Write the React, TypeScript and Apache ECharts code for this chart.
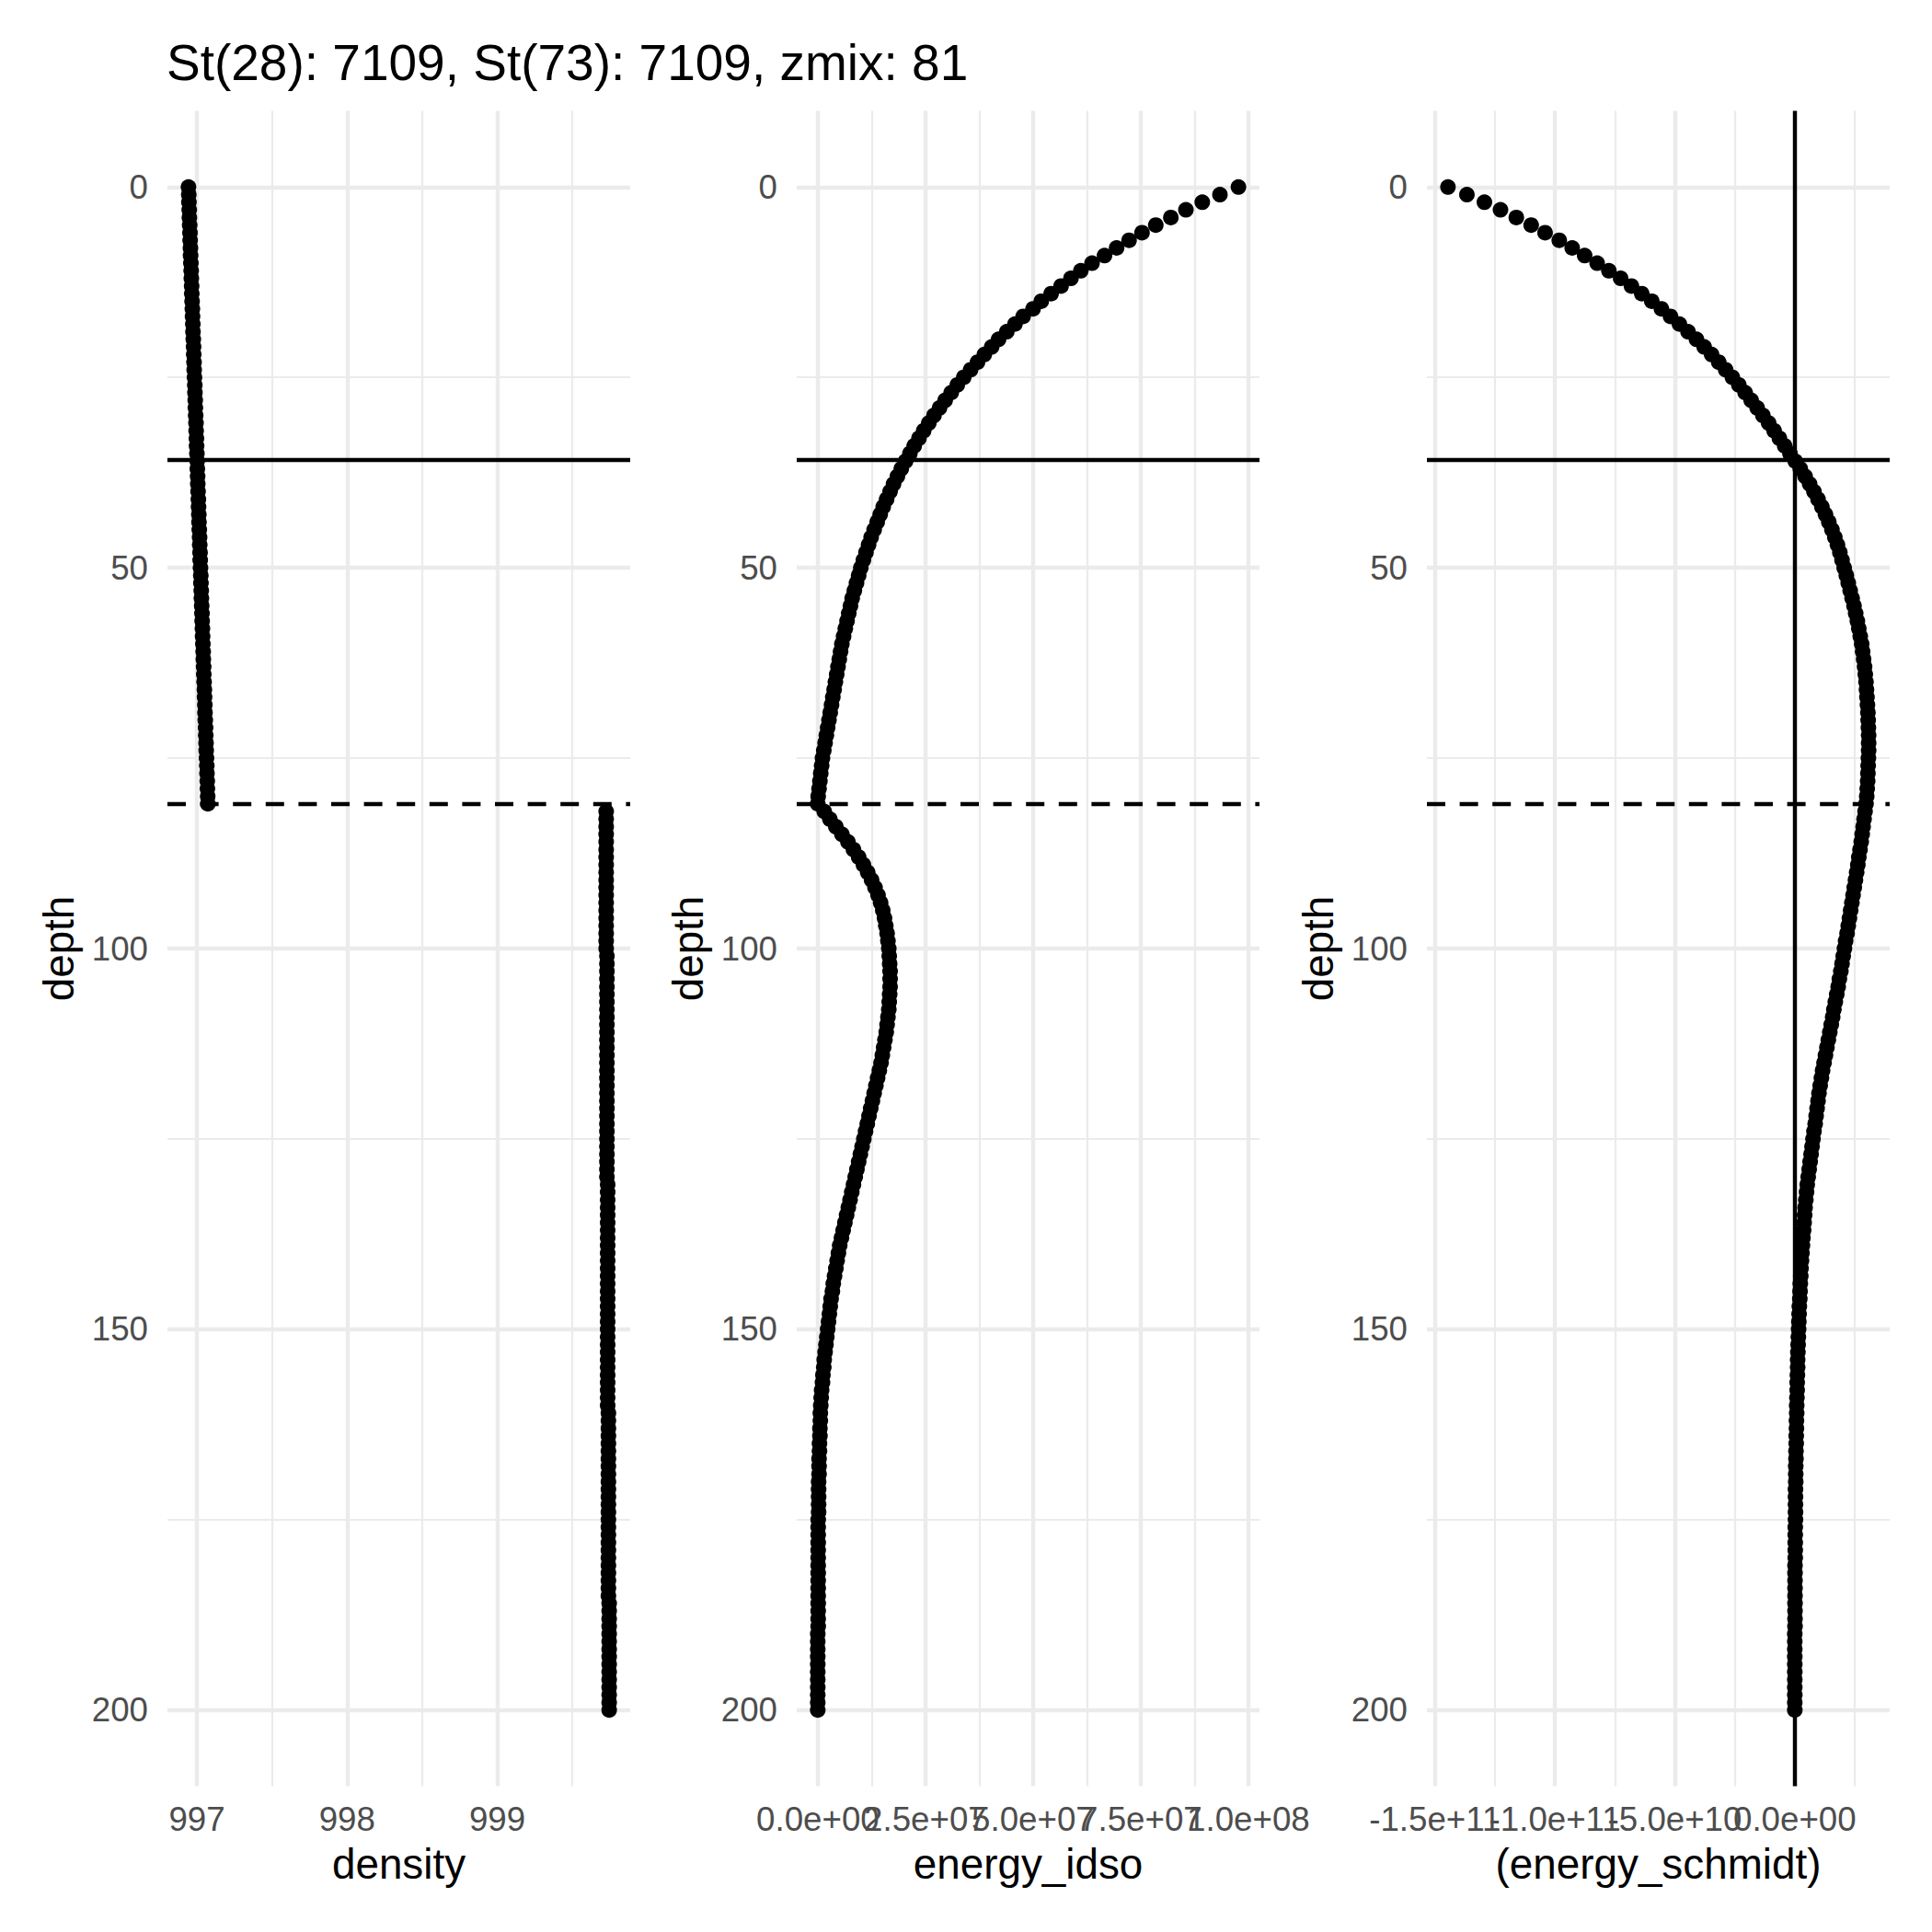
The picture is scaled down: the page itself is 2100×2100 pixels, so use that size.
import React, { useEffect, useRef } from "react";
import * as echarts from "echarts";

const FONT = '"Liberation Sans", Arial, Helvetica, sans-serif';
const TITLE = "St(28): 7109, St(73): 7109, zmix: 81";
const THERMO_DEPTH = 35.8;
const ZMIX = 81;

// depth sampling: 0..200 m, every metre
const depths: number[] = Array.from({ length: 201 }, (_, i) => i);

const depthTicks = [0, 50, 100, 150, 200];
const depthMinor = [25, 75, 125, 175];

const densityTicks = [997, 998, 999];
const densityMinor = [997.5, 998.5, 999.5];
const idsoTicks = [0, 2.5e7, 5e7, 7.5e7, 1e8];
const idsoMinor = [1.25e7, 3.75e7, 6.25e7, 8.75e7];
const schmidtTicks = [-1.5e11, -1e11, -5e10, 0];
const schmidtMinor = [-1.25e11, -7.5e10, -2.5e10, 2.5e10];

// density (kg/m3) by depth 0..200
const density = [
  996.944, 996.946, 996.947, 996.949, 996.950, 996.952, 996.954, 996.955, 996.957, 996.958,
  996.960, 996.962, 996.963, 996.965, 996.966, 996.968, 996.970, 996.971, 996.973, 996.974,
  996.976, 996.978, 996.979, 996.981, 996.982, 996.984, 996.986, 996.987, 996.989, 996.990,
  996.992, 996.994, 996.995, 996.997, 996.998, 997.000, 997.002, 997.003, 997.005, 997.006,
  997.008, 997.010, 997.011, 997.013, 997.014, 997.016, 997.018, 997.019, 997.021, 997.022,
  997.024, 997.026, 997.027, 997.029, 997.030, 997.032, 997.034, 997.035, 997.037, 997.038,
  997.040, 997.042, 997.043, 997.045, 997.046, 997.048, 997.050, 997.051, 997.053, 997.054,
  997.056, 997.058, 997.059, 997.061, 997.062, 997.064, 997.066, 997.067, 997.069, 997.070,
  997.072, 997.073, 999.725, 999.725, 999.725, 999.725, 999.725, 999.725, 999.725, 999.725,
  999.725, 999.725, 999.725, 999.725, 999.725, 999.725, 999.725, 999.725, 999.725, 999.725,
  999.725, 999.730, 999.730, 999.730, 999.730, 999.730, 999.730, 999.730, 999.730, 999.730,
  999.730, 999.730, 999.730, 999.730, 999.730, 999.730, 999.730, 999.730, 999.730, 999.730,
  999.730, 999.730, 999.730, 999.730, 999.730, 999.730, 999.730, 999.730, 999.730, 999.730,
  999.730, 999.735, 999.735, 999.735, 999.735, 999.735, 999.735, 999.735, 999.735, 999.735,
  999.735, 999.735, 999.735, 999.735, 999.735, 999.735, 999.735, 999.735, 999.735, 999.735,
  999.735, 999.735, 999.735, 999.735, 999.735, 999.735, 999.735, 999.735, 999.735, 999.735,
  999.735, 999.740, 999.740, 999.740, 999.740, 999.740, 999.740, 999.740, 999.740, 999.740,
  999.740, 999.740, 999.740, 999.740, 999.740, 999.740, 999.740, 999.740, 999.740, 999.740,
  999.740, 999.740, 999.740, 999.740, 999.740, 999.740, 999.745, 999.745, 999.745, 999.745,
  999.745, 999.745, 999.745, 999.745, 999.745, 999.745, 999.745, 999.745, 999.745, 999.745,
  999.745,
];

// energy_idso in units of 1e7, by depth 0..200
const energyIdsoE7 = [
  9.77, 9.34, 8.93, 8.55, 8.20, 7.85, 7.53, 7.23, 6.94, 6.66,
  6.37, 6.11, 5.88, 5.65, 5.42, 5.19, 5.00, 4.77, 4.58, 4.39,
  4.20, 4.04, 3.87, 3.71, 3.55, 3.39, 3.24, 3.10, 2.96, 2.83,
  2.70, 2.58, 2.46, 2.35, 2.24, 2.14, 2.04, 1.94, 1.85, 1.76,
  1.68, 1.60, 1.52, 1.45, 1.38, 1.31, 1.24, 1.18, 1.12, 1.06,
  1.00, 0.95, 0.90, 0.85, 0.80, 0.76, 0.72, 0.68, 0.64, 0.60,
  0.56, 0.53, 0.50, 0.47, 0.44, 0.41, 0.38, 0.35, 0.32, 0.29,
  0.26, 0.23, 0.20, 0.17, 0.14, 0.11, 0.09, 0.07, 0.05, 0.03,
  0.01, 0.00, 0.15, 0.28, 0.42, 0.56, 0.70, 0.83, 0.95, 1.06,
  1.16, 1.25, 1.33, 1.40, 1.46, 1.51, 1.55, 1.58, 1.61, 1.63,
  1.65, 1.66, 1.67, 1.68, 1.68, 1.68, 1.67, 1.66, 1.65, 1.63,
  1.61, 1.59, 1.56, 1.53, 1.50, 1.47, 1.43, 1.39, 1.35, 1.31,
  1.27, 1.23, 1.19, 1.15, 1.11, 1.07, 1.03, 0.99, 0.95, 0.91,
  0.87, 0.83, 0.79, 0.75, 0.71, 0.67, 0.63, 0.59, 0.55, 0.51,
  0.48, 0.45, 0.42, 0.39, 0.36, 0.34, 0.31, 0.29, 0.27, 0.25,
  0.23, 0.21, 0.19, 0.17, 0.15, 0.14, 0.12, 0.11, 0.09, 0.08,
  0.07, 0.06, 0.06, 0.05, 0.05, 0.04, 0.04, 0.03, 0.03, 0.03,
  0.02, 0.02, 0.02, 0.02, 0.02, 0.01, 0.01, 0.01, 0.01, 0.01,
  0.01, 0.01, 0.01, 0.01, 0.01, 0.01, 0.01, 0.01, 0.01, 0.01,
  0.00, 0.00, 0.00, 0.00, 0.00, 0.00, 0.00, 0.00, 0.00, 0.00,
  0.00,
];

// energy_schmidt in units of 1e10, by depth 0..200
const energySchmidtE10 = [
  -14.46, -13.67, -12.94, -12.27, -11.61, -10.99, -10.41, -9.82, -9.28, -8.76,
  -8.24, -7.75, -7.26, -6.81, -6.38, -5.96, -5.56, -5.18, -4.81, -4.45,
  -4.10, -3.78, -3.47, -3.17, -2.88, -2.60, -2.33, -2.07, -1.82, -1.57,
  -1.33, -1.09, -0.86, -0.64, -0.42, -0.20, 0.02, 0.23, 0.43, 0.62,
  0.80, 0.97, 1.13, 1.28, 1.42, 1.55, 1.67, 1.78, 1.88, 1.97,
  2.06, 2.15, 2.23, 2.31, 2.39, 2.47, 2.54, 2.61, 2.67, 2.73,
  2.79, 2.83, 2.87, 2.91, 2.94, 2.97, 2.99, 3.01, 3.03, 3.05,
  3.06, 3.07, 3.08, 3.08, 3.08, 3.07, 3.06, 3.05, 3.04, 3.02,
  3.00, 2.97, 2.93, 2.89, 2.85, 2.81, 2.77, 2.72, 2.67, 2.63,
  2.58, 2.53, 2.48, 2.43, 2.38, 2.33, 2.28, 2.23, 2.18, 2.12,
  2.07, 2.02, 1.97, 1.92, 1.86, 1.81, 1.75, 1.69, 1.63, 1.58,
  1.52, 1.46, 1.40, 1.34, 1.28, 1.22, 1.16, 1.11, 1.06, 1.01,
  0.97, 0.93, 0.89, 0.85, 0.80, 0.76, 0.72, 0.68, 0.64, 0.60,
  0.56, 0.52, 0.49, 0.46, 0.43, 0.41, 0.39, 0.37, 0.34, 0.32,
  0.30, 0.28, 0.26, 0.25, 0.23, 0.22, 0.21, 0.19, 0.18, 0.17,
  0.16, 0.15, 0.14, 0.13, 0.12, 0.12, 0.11, 0.10, 0.10, 0.09,
  0.08, 0.08, 0.07, 0.07, 0.06, 0.06, 0.05, 0.05, 0.04, 0.04,
  0.04, 0.03, 0.03, 0.03, 0.03, 0.03, 0.02, 0.02, 0.02, 0.02,
  0.02, 0.01, 0.01, 0.01, 0.01, 0.01, 0.01, 0.01, 0.01, 0.01,
  0.00, 0.00, 0.00, 0.00, 0.00, 0.00, 0.00, 0.00, 0.00, 0.00,
  0.00,
];

function sci(v: number): string {
  const s = v.toExponential(1);
  const m = s.match(/^(-?[\d.]+)e([+-])(\d+)$/);
  if (!m) return s;
  return `${m[1]}e${m[2]}${m[3].padStart(2, "0")}`;
}

function expand(vals: number[]): [number, number] {
  const mn = Math.min(...vals);
  const mx = Math.max(...vals);
  const r = mx - mn;
  return [mn - 0.05 * r, mx + 0.05 * r];
}

const PANEL_TOP = 120.5;
const PANEL_H = 1821;
const PANEL_W = 503;
const PANEL_LEFTS = [182, 866, 1551];

const GRID_COLOR = "#EBEBEB";
const MAJOR_W = 4.4;
const MINOR_W = 2.2;
const REF_W = 4.4;

const labelBase = {
  showMinLabel: true,
  showMaxLabel: true,
  hideOverlap: false,
  fontSize: 36.7,
  lineHeight: 36.7,
  color: "#4D4D4D",
  fontFamily: FONT,
};

function buildOption() {
  const panels = [
    {
      name: "density",
      values: density,
      ticks: densityTicks,
      minor: densityMinor,
      fmt: (v: number) => v.toFixed(0),
      vline: null as number | null,
    },
    {
      name: "energy_idso",
      values: energyIdsoE7.map((v) => v * 1e7),
      ticks: idsoTicks,
      minor: idsoMinor,
      fmt: sci,
      vline: null as number | null,
    },
    {
      name: "(energy_schmidt)",
      values: energySchmidtE10.map((v) => v * 1e10),
      ticks: schmidtTicks,
      minor: schmidtMinor,
      fmt: sci,
      vline: 0 as number | null,
    },
  ];

  const yExt = expand(depths);

  const grid = panels.map((_, i) => ({
    left: PANEL_LEFTS[i],
    top: PANEL_TOP,
    width: PANEL_W,
    height: PANEL_H,
    containLabel: false,
    outerBoundsMode: "none",
  }));

  // Primary x axes (one per panel) carry the even-indexed tick labels and the name;
  // secondary x axes carry the odd-indexed labels so that ECharts never hides
  // labels that overlap (they overlap in the reference).
  const xAxis: any[] = [];
  panels.forEach((p, i) => {
    const [mn, mx] = expand(p.values);
    xAxis.push({
      type: "value",
      gridIndex: i,
      position: "bottom",
      min: mn,
      max: mx,
      axisLine: { show: false, onZero: false },
      axisTick: { show: false },
      splitLine: { show: false },
      axisLabel: {
        ...labelBase,
        customValues: p.ticks.filter((_, k) => k % 2 === 0),
        formatter: (v: number) => p.fmt(v),
        margin: 18,
      },
      name: p.name,
      nameLocation: "middle",
      nameGap: 62.4,
      nameTextStyle: { fontSize: 45.8, lineHeight: 45.8, color: "#000", fontFamily: FONT },
    });
  });
  panels.forEach((p, i) => {
    const [mn, mx] = expand(p.values);
    xAxis.push({
      type: "value",
      gridIndex: i,
      position: "bottom",
      offset: 0,
      min: mn,
      max: mx,
      axisLine: { show: false, onZero: false },
      axisTick: { show: false },
      splitLine: { show: false },
      axisLabel: {
        ...labelBase,
        customValues: p.ticks.filter((_, k) => k % 2 === 1),
        formatter: (v: number) => p.fmt(v),
        margin: 18,
      },
    });
  });

  const yAxis = panels.map((_, i) => ({
    type: "value",
    gridIndex: i,
    position: "left",
    inverse: true,
    min: yExt[0],
    max: yExt[1],
    axisLine: { show: false, onZero: false },
    axisTick: { show: false },
    splitLine: { show: false },
    axisLabel: {
      ...labelBase,
      customValues: depthTicks,
      formatter: (v: number) => String(Math.round(v)),
      margin: 21,
    },
    name: "depth",
    nameLocation: "middle",
    nameRotate: 90,
    nameGap: 95,
    nameTextStyle: { fontSize: 45.8, lineHeight: 45.8, color: "#000", fontFamily: FONT },
  }));

  const series: any[] = [];
  panels.forEach((p, i) => {
    const gridLines = [
      ...p.minor.map((v) => ({ xAxis: v, lineStyle: { color: GRID_COLOR, width: MINOR_W, type: "solid" } })),
      ...depthMinor.map((v) => ({ yAxis: v, lineStyle: { color: GRID_COLOR, width: MINOR_W, type: "solid" } })),
      ...p.ticks.map((v) => ({ xAxis: v, lineStyle: { color: GRID_COLOR, width: MAJOR_W, type: "solid" } })),
      ...depthTicks.map((v) => ({ yAxis: v, lineStyle: { color: GRID_COLOR, width: MAJOR_W, type: "solid" } })),
    ];
    series.push({
      type: "scatter",
      xAxisIndex: i,
      yAxisIndex: i,
      data: depths.map((d, k) => [p.values[k], d]),
      symbol: "circle",
      symbolSize: 17,
      itemStyle: { color: "#000", opacity: 1 },
      silent: true,
      z: 2,
      markLine: {
        silent: true,
        z: 1,
        symbol: ["none", "none"],
        label: { show: false },
        emphasis: { disabled: true },
        data: gridLines,
      },
    });
    const refLines: any[] = [
      { yAxis: THERMO_DEPTH, lineStyle: { color: "#000", width: REF_W, type: "solid" } },
      { yAxis: ZMIX, lineStyle: { color: "#000", width: REF_W, type: [20, 15.6] } },
    ];
    if (p.vline !== null) {
      refLines.push({ xAxis: p.vline, lineStyle: { color: "#000", width: REF_W, type: "solid" } });
    }
    series.push({
      type: "scatter",
      xAxisIndex: i,
      yAxisIndex: i,
      data: [],
      silent: true,
      z: 3,
      markLine: {
        silent: true,
        z: 5,
        symbol: ["none", "none"],
        label: { show: false },
        emphasis: { disabled: true },
        data: refLines,
      },
    });
  });

  return {
    animation: false,
    backgroundColor: "#ffffff",
    textStyle: { fontFamily: FONT },
    title: {
      text: TITLE,
      left: 181,
      top: 40,
      padding: 0,
      textStyle: { fontSize: 55, lineHeight: 55, fontWeight: "normal", color: "#000", fontFamily: FONT },
    },
    grid,
    xAxis,
    yAxis,
    series,
  };
}

export default function App() {
  const ref = useRef<HTMLDivElement>(null);
  useEffect(() => {
    document.body.style.margin = "0";
    const chart = echarts.init(ref.current as HTMLDivElement, null, { renderer: "svg", width: 2100, height: 2100 });
    chart.setOption(buildOption() as any);
    return () => {
      chart.dispose();
    };
  }, []);
  return (
    <div
      ref={ref}
      style={{ width: 2100, height: 2100, position: "absolute", left: 0, top: 0, background: "#fff" }}
    />
  );
}
